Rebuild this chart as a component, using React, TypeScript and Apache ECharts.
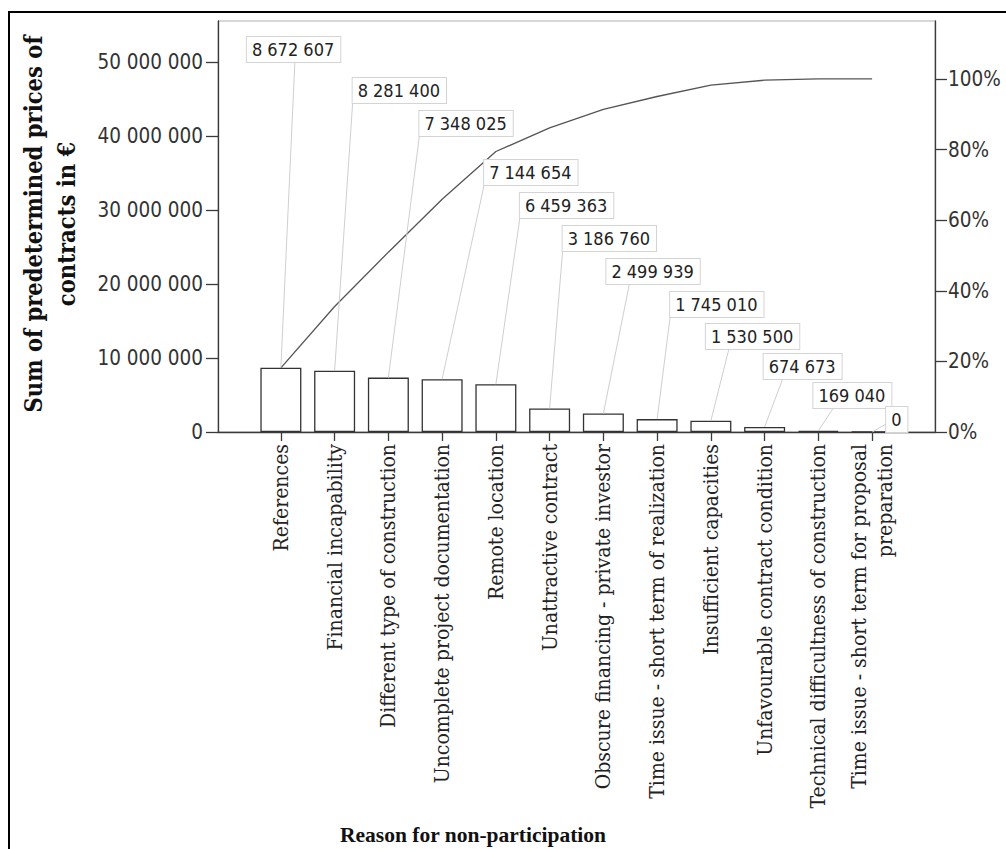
import React, { useEffect, useRef } from 'react';
import * as echarts from 'echarts';

// ---------- data ----------
const categories: string[] = [
  'References',
  'Financial incapability',
  'Different type of construction',
  'Uncomplete project documentation',
  'Remote location',
  'Unattractive contract',
  'Obscure financing - private investor',
  'Time issue - short term of realization',
  'Insufficient capacities',
  'Unfavourable contract condition',
  'Technical difficultness of construction',
  'Time issue - short term for proposal\npreparation',
];
const values: number[] = [
  8672607, 8281400, 7348025, 7144654, 6459363, 3186760, 2499939, 1745010, 1530500, 674673, 169040, 0,
];
const leftTicks: number[] = [0, 10000000, 20000000, 30000000, 40000000, 50000000];
const rightTicks: number[] = [0, 20, 40, 60, 80, 100];
const leftAxisMax = 55540000;

const yTitle = 'Sum of predetermined prices of\ncontracts in €';
const xTitle = 'Reason for non-participation';

// ---------- label layout (SPSS-style staggered callouts) ----------
const labelDx: number[] = [-34, 18, 31, 42, 24, 13, 3, 13, -5, -1, -5, 14];
const labelTop: number[] = [37, 78, 111, 160, 193, 226, 259, 292, 324, 354, 383, 407];
const leaderAnchor: number[][] = [
  [48, 25], [0, 25], [0, 25], [0, 25], [0, 25], [0, 25],
  [23, 25], [0, 25], [23, 25], [19, 25], [20, 25], [0, 17],
];

const SANS = "'DejaVu Sans Condensed', 'DejaVu Sans', sans-serif";
const SERIF = "'DejaVu Serif Condensed', 'DejaVu Serif', serif";
const TITLE_SERIF = "'Liberation Serif', serif";

const fmt = (n: number) => String(Math.round(n)).replace(/\B(?=(\d{3})+(?!\d))/g, ' ');

export default function App() {
  const ref = useRef<HTMLDivElement>(null);

  useEffect(() => {
    document.body.style.margin = '0';
    if (!ref.current) return;
    const chart = echarts.init(ref.current, undefined, { renderer: 'svg' });

    const total = values.reduce((a, b) => a + b, 0);
    let run = 0;
    const cumulative = values.map((v) => {
      run += v;
      return (run / total) * 100;
    });
    const rightAxisMax = (leftAxisMax / total) * 100;

    const axisColor = '#3a3a3a';
    const gridTop = 21;
    const gridBottom = 417;

    chart.setOption({
      animation: false,
      backgroundColor: '#ffffff',
      grid: [
        { left: 218, right: 71, top: gridTop, bottom: gridBottom, show: true, borderColor: '#b0b0b0', borderWidth: 1, backgroundColor: 'transparent' },
        { left: 254, right: 107, top: gridTop, bottom: gridBottom },
      ],
      xAxis: [
        {
          gridIndex: 0, type: 'value', min: 0, max: 1,
          axisLine: { show: true, lineStyle: { color: axisColor, width: 1.3 } },
          axisTick: { show: false }, axisLabel: { show: false }, splitLine: { show: false },
        },
        {
          gridIndex: 1, type: 'category', data: categories, boundaryGap: true,
          axisLine: { show: false },
          axisTick: { show: true, alignWithLabel: true, length: 9, lineStyle: { color: axisColor, width: 1.3 } },
          axisLabel: {
            interval: 0, rotate: 90, margin: 12, fontSize: 21, fontFamily: SERIF, color: '#222', lineHeight: 26,
          },
          splitLine: { show: false },
        },
      ],
      yAxis: [
        {
          gridIndex: 0, type: 'value', position: 'left', min: 0, max: leftAxisMax,
          axisLine: { show: true, lineStyle: { color: axisColor, width: 1.3 } },
          axisTick: { show: true, length: 12, customValues: leftTicks, lineStyle: { color: axisColor, width: 1.3 } },
          axisLabel: { customValues: leftTicks, formatter: (v: number) => fmt(v), margin: 15, fontSize: 20.5, fontFamily: SANS, color: '#333' },
          splitLine: { show: false },
        },
        {
          gridIndex: 0, type: 'value', position: 'right', min: 0, max: rightAxisMax,
          axisLine: { show: true, lineStyle: { color: axisColor, width: 1.3 } },
          axisTick: { show: true, length: 12, customValues: rightTicks, lineStyle: { color: axisColor, width: 1.3 } },
          axisLabel: { customValues: rightTicks, formatter: (v: number) => `${Math.round(v)}%`, margin: 13, fontSize: 20.5, fontFamily: SANS, color: '#333' },
          splitLine: { show: false },
        },
        { gridIndex: 1, type: 'value', min: 0, max: leftAxisMax, show: false },
        { gridIndex: 1, type: 'value', min: 0, max: rightAxisMax, show: false },
      ],
      series: [
        {
          type: 'bar', xAxisIndex: 1, yAxisIndex: 2, data: values, barWidth: 41, z: 2,
          itemStyle: { color: '#ffffff', borderColor: '#333333', borderWidth: 1.3 },
        },
        {
          type: 'line', xAxisIndex: 1, yAxisIndex: 3, data: cumulative, symbol: 'none', z: 3,
          lineStyle: { color: '#555555', width: 1.3 },
        },
        {
          type: 'custom', xAxisIndex: 1, yAxisIndex: 2, z: 4,
          data: values.map((v, i) => [i, v]),
          renderItem: (params: any, api: any) => {
            const i = params.dataIndex;
            const val = api.value(1);
            const p = api.coord([api.value(0), val]);
            const left = p[0] + labelDx[i];
            const top = labelTop[i];
            const a = leaderAnchor[i];
            return {
              type: 'group',
              children: [
                {
                  type: 'line',
                  shape: { x1: left + a[0], y1: top + a[1], x2: p[0], y2: p[1] },
                  style: { stroke: '#cfcfcf', lineWidth: 1 },
                },
                {
                  type: 'text', x: left, y: top,
                  style: {
                    text: fmt(val), fontSize: 18, fontFamily: SANS, fill: '#222',
                    backgroundColor: '#ffffff', borderColor: '#d4d4d4', borderWidth: 1,
                    padding: [3, 6, 3, 5], lineHeight: 19, align: 'left', verticalAlign: 'top',
                  },
                },
              ],
            };
          },
        },
      ],
      graphic: [
        {
          type: 'rect', shape: { x: 9, y: 12, width: 1100, height: 900 },
          style: { fill: 'none', stroke: '#000', lineWidth: 2 }, silent: true, z: 10,
        },
        {
          type: 'text', x: 50, y: 224, rotation: Math.PI / 2,
          style: {
            text: yTitle, fontSize: 23.5, fontWeight: 'bold', fontFamily: SERIF, fill: '#111',
            align: 'center', verticalAlign: 'middle', lineHeight: 33,
          },
        },
        {
          type: 'text', x: 473, y: 835,
          style: {
            text: xTitle, fontSize: 21.5, fontWeight: 'bold', fontFamily: TITLE_SERIF, fill: '#111',
            align: 'center', verticalAlign: 'middle',
          },
        },
      ],
    });

    return () => chart.dispose();
  }, []);

  return <div ref={ref} style={{ width: 1006, height: 849 }} />;
}
